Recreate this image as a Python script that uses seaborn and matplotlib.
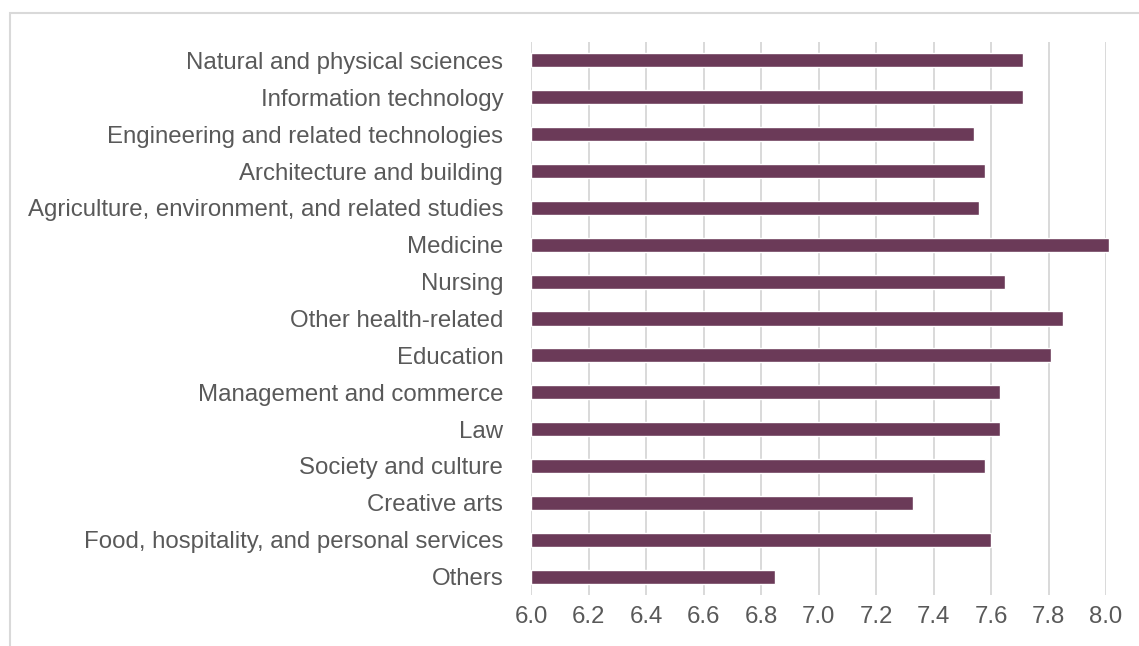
import matplotlib
matplotlib.use("Agg")
import matplotlib.pyplot as plt
from matplotlib.patches import Rectangle
import seaborn as sns
import pandas as pd

fields = [
    "Natural and physical sciences",
    "Information technology",
    "Engineering and related technologies",
    "Architecture and building",
    "Agriculture, environment, and related studies",
    "Medicine",
    "Nursing",
    "Other health-related",
    "Education",
    "Management and commerce",
    "Law",
    "Society and culture",
    "Creative arts",
    "Food, hospitality, and personal services",
    "Others",
]
scores = [7.71, 7.71, 7.54, 7.58, 7.56, 8.01, 7.65, 7.85, 7.81, 7.63, 7.63, 7.58, 7.33, 7.60, 6.85]
x_ticks = [6.0, 6.2, 6.4, 6.6, 6.8, 7.0, 7.2, 7.4, 7.6, 7.8, 8.0]

df = pd.DataFrame({"field": fields, "score": scores})

sns.set_theme(style="white")
plt.rcParams["font.family"] = ["Liberation Sans", "DejaVu Sans"]

fig = plt.figure(figsize=(11.39, 6.46), dpi=100)
ax = fig.add_axes([531 / 1139, 1 - 595 / 646, (1106 - 531) / 1139, (595 - 42) / 646])

# Vertical gridlines drawn under the bars
for t in x_ticks:
    ax.axvline(t, color="#D9D9D9", linewidth=1.4, zorder=0)

sns.barplot(data=df, x="score", y="field", orient="h", color="#6B3A58",
            saturation=1, width=0.38, ax=ax, zorder=2)
# Bars start at the left edge of the axis (6.0 baseline)
for p in ax.patches:
    x0 = p.get_x()
    w = p.get_width()
    p.set_x(6.0)
    p.set_width(x0 + w - 6.0)
    p.set_clip_on(False)

ax.set_xlim(6.0, 8.0)
ax.set_ylim(len(fields) - 0.5, -0.5)
ax.set_xticks(x_ticks)
ax.set_xticklabels([f"{t:.1f}" for t in x_ticks])
ax.set_xlabel("")
ax.set_ylabel("")
for s in ax.spines.values():
    s.set_visible(False)
ax.tick_params(axis="y", length=0, pad=20, labelsize=17.3, labelcolor="#595959")
ax.tick_params(axis="x", length=0, pad=8, labelsize=17.3, labelcolor="#595959")
ax.grid(False)

# Light outer frame
fig.patches.append(Rectangle((10 / 1139, -0.1), 1.2, 1 - 13 / 646 + 0.1,
                             transform=fig.transFigure, fill=False,
                             edgecolor="#D9D9D9", linewidth=1.5, zorder=0))

fig.savefig("out.png", dpi=100)
